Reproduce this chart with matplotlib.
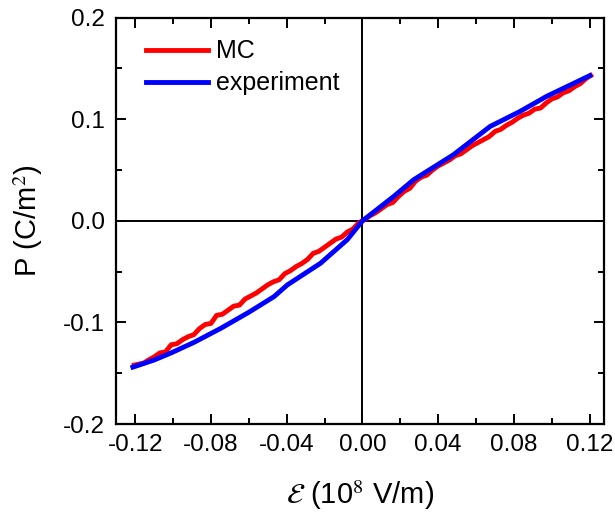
import matplotlib
matplotlib.use("Agg")
import matplotlib.pyplot as plt
from matplotlib.ticker import MultipleLocator

plt.rcParams['font.family'] = ['Liberation Sans', 'DejaVu Sans']
plt.rcParams['mathtext.fontset'] = 'stix'

# MC (Monte Carlo) - noisy curve
mc_field = [-0.1205, -0.118, -0.1155, -0.113, -0.110, -0.107, -0.104, -0.101, -0.098,
            -0.095, -0.092, -0.089, -0.086, -0.083, -0.080, -0.077, -0.074, -0.071,
            -0.068, -0.065, -0.062, -0.059, -0.056, -0.053, -0.050, -0.047, -0.044,
            -0.041, -0.038, -0.035, -0.032, -0.029, -0.026, -0.023, -0.020, -0.017,
            -0.014, -0.011, -0.008, -0.005, -0.002, 0.001, 0.004, 0.007, 0.010, 0.013,
            0.016, 0.019, 0.022, 0.025, 0.028, 0.031, 0.034, 0.037, 0.040, 0.043, 0.046,
            0.049, 0.052, 0.055, 0.058, 0.061, 0.064, 0.067, 0.070, 0.073, 0.076, 0.079,
            0.082, 0.085, 0.088, 0.091, 0.094, 0.097, 0.100, 0.103, 0.106, 0.109, 0.112,
            0.115, 0.118, 0.1205]
mc_pol = [-0.142, -0.141, -0.140, -0.137, -0.134, -0.130, -0.129, -0.122, -0.121,
          -0.117, -0.114, -0.112, -0.106, -0.102, -0.101, -0.093, -0.092, -0.088,
          -0.084, -0.083, -0.077, -0.074, -0.071, -0.067, -0.063, -0.060, -0.058,
          -0.052, -0.049, -0.045, -0.042, -0.038, -0.032, -0.030, -0.026, -0.022,
          -0.018, -0.016, -0.011, -0.008, -0.002, 0.001, 0.005, 0.008, 0.012, 0.016,
          0.018, 0.024, 0.029, 0.032, 0.039, 0.043, 0.045, 0.050, 0.054, 0.057, 0.060,
          0.064, 0.066, 0.070, 0.074, 0.077, 0.080, 0.083, 0.088, 0.090, 0.094, 0.097,
          0.101, 0.104, 0.106, 0.110, 0.111, 0.116, 0.120, 0.122, 0.126, 0.128, 0.132,
          0.135, 0.140, 0.143]

# experiment - smooth curve
exp_field = [-0.1212, -0.110, -0.101, -0.0888, -0.0747, -0.060, -0.0467, -0.0396,
             -0.0221, -0.0081, 0.0, 0.0165, 0.027, 0.048, 0.0674, 0.0832, 0.0972, 0.120]
exp_pol = [-0.144, -0.137, -0.130, -0.1195, -0.1057, -0.090, -0.0746, -0.063,
           -0.0417, -0.0187, 0.0, 0.024, 0.0404, 0.065, 0.0929, 0.1077, 0.1225, 0.1429]

fig = plt.figure(figsize=(6.15, 5.19), dpi=100)
ax = fig.add_axes([0.189, 0.183, 0.793, 0.783])

ax.axhline(0, color='black', lw=1.4, zorder=1)
ax.axvline(0, color='black', lw=1.4, zorder=1)
ax.plot(mc_field, mc_pol, color='#ff0000', lw=3.5, label='MC', zorder=2)
ax.plot(exp_field, exp_pol, color='#0000ff', lw=3.5, label='experiment', zorder=3)

ax.set_xlim(-0.13, 0.1275)
ax.set_ylim(-0.2, 0.2)
ax.xaxis.set_minor_locator(MultipleLocator(0.02))
ax.yaxis.set_minor_locator(MultipleLocator(0.05))
ax.set_xticks([-0.12, -0.08, -0.04, 0.0, 0.04, 0.08, 0.12])
ax.set_xticklabels(['-0.12', '-0.08', '-0.04', '0.00', '0.04', '0.08', '0.12'])
ax.set_yticks([-0.2, -0.1, 0.0, 0.1, 0.2])
ax.set_yticklabels(['-0.2', '-0.1', '0.0', '0.1', '0.2'])
ax.tick_params(which='both', direction='in', top=True, right=True, labelsize=17.5, width=1.4)
ax.tick_params(which='major', length=7.5)
ax.tick_params(which='minor', length=4.5)
ax.tick_params(axis='x', pad=7)
ax.tick_params(axis='y', pad=8)
for s in ax.spines.values():
    s.set_linewidth(1.6)

ax.set_xlabel(r'$\mathcal{E}$ (10$^{8}$ V/m)', fontsize=21, labelpad=16)
ax.set_ylabel(r'P (C/m$^{2}$)', fontsize=21, labelpad=13)

ax.legend(loc='upper left', bbox_to_anchor=(0.045, 0.965), frameon=False, fontsize=18,
          handlelength=2.5, handletextpad=0.3, labelspacing=0.32, borderaxespad=0.0,
          borderpad=0.3)

fig.savefig('out.png', dpi=100)
